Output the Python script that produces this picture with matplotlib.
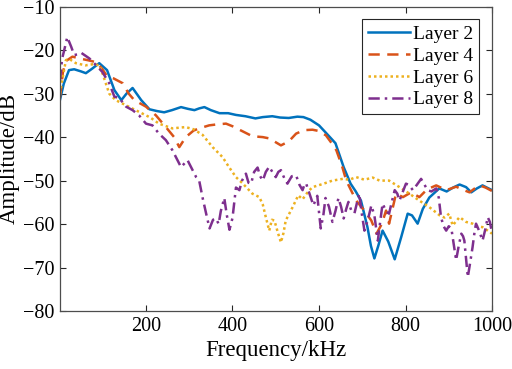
import matplotlib

matplotlib.use("Agg")
import matplotlib.pyplot as plt  # noqa: E402

plt.rcParams["font.family"] = ["Liberation Serif", "DejaVu Serif"]
plt.rcParams["mathtext.fontset"] = "stix"

# Layer 2 (solid blue)
f2 = [1, 10, 22, 34, 50, 61, 75, 92, 110, 127, 143, 155, 169, 189, 208, 225,
      242, 260, 281, 297, 312, 323, 335, 350, 370, 390, 408, 430, 453, 470,
      492, 510, 530, 550, 564, 580, 600, 615, 638, 657, 673, 685, 697, 712,
      720, 728, 737, 747, 760, 775, 790, 805, 815, 828, 840, 855, 878, 895,
      910, 925, 940, 952, 965, 978, 990, 1000]
a2 = [-31.5, -27.7, -24.6, -24.4, -24.9, -25.3, -24.3, -23.0, -24.6, -29.2,
      -31.5, -30.0, -28.7, -31.5, -33.6, -34.0, -34.3, -33.8, -33.1, -33.5,
      -33.8, -33.4, -33.1, -33.8, -34.5, -34.5, -34.9, -35.2, -35.7, -35.4,
      -35.2, -35.5, -35.6, -35.3, -35.4, -36.0, -37.3, -38.9, -41.4, -46.9,
      -50.7, -52.5, -54.6, -60.7, -65.0, -67.9, -65.0, -61.5, -64.0, -68.1,
      -63.0, -57.6, -58.0, -59.9, -56.5, -53.9, -51.8, -52.5, -51.6, -50.9,
      -51.5, -52.7, -51.8, -51.1, -51.7, -52.2]

# Layer 4 (dashed orange)
f4 = [1, 8, 15, 30, 50, 65, 86, 100, 110, 125, 146, 160, 173, 200, 223, 246,
      265, 277, 292, 310, 323, 346, 362, 385, 400, 420, 446, 470, 485, 512,
      530, 547, 565, 585, 600, 616, 630, 640, 654, 663, 686, 705, 721, 733,
      745, 755, 762, 778, 794, 813, 832, 850, 871, 894, 917, 930, 948, 960,
      971, 985, 1000]
a4 = [-31.0, -25.0, -22.5, -21.5, -22.0, -22.3, -22.8, -24.5, -26.0, -26.5,
      -27.6, -30.0, -31.5, -33.0, -35.0, -37.7, -40.0, -42.3, -40.0, -38.5,
      -38.0, -37.3, -37.1, -36.9, -37.5, -38.5, -39.8, -40.0, -40.3, -41.9,
      -41.0, -39.2, -38.4, -38.3, -38.6, -39.6, -41.5, -43.0, -46.9, -50.0,
      -54.6, -56.9, -59.2, -62.2, -60.0, -56.9, -59.9, -53.0, -53.8, -52.7,
      -53.8, -52.0, -51.1, -52.2, -51.4, -52.0, -52.7, -51.8, -51.1, -51.6,
      -52.4]

# Layer 6 (dotted yellow)
f6 = [1, 8, 15, 22, 38, 60, 80, 92, 100, 115, 130, 146, 170, 192, 210, 230,
      261, 280, 292, 310, 331, 354, 377, 392, 408, 423, 446, 462, 470, 477,
      485, 491, 497, 505, 512, 518, 523, 539, 552, 562, 575, 585, 608, 631,
      655, 670, 686, 705, 724, 740, 762, 786, 809, 832, 855, 879, 890, 901,
      909, 925, 940, 955, 965, 978, 990, 1000]
a6 = [-30.0, -26.0, -22.3, -22.0, -23.0, -23.5, -23.2, -23.5, -25.5, -30.0,
      -31.5, -32.3, -33.5, -34.6, -35.5, -36.9, -38.0, -37.8, -37.7, -38.2,
      -39.5, -42.3, -44.6, -46.9, -49.2, -50.6, -53.0, -53.8, -55.5, -58.4,
      -61.5, -59.0, -59.2, -62.0, -64.2, -62.0, -59.2, -56.1, -53.4, -54.3,
      -52.5, -51.5, -50.8, -50.0, -49.6, -49.8, -49.2, -49.8, -49.3, -50.0,
      -50.0, -51.5, -53.0, -54.6, -56.1, -58.0, -58.5, -57.6, -60.3, -58.4,
      -59.5, -59.9, -60.5, -60.7, -61.5, -62.2]

# Layer 8 (dash-dot purple)
f8 = [1, 6, 11, 18, 27, 34, 42, 50, 69, 84, 99, 115, 127, 138, 154, 169,
      184, 200, 215, 230, 246, 261, 281, 296, 316, 323, 331, 340, 347, 355,
      362, 368, 373, 381, 387, 393, 400, 408, 416, 422, 431, 437, 443, 450,
      458, 464, 470, 477, 485, 492, 500, 506, 512, 520, 527, 537, 547, 555,
      562, 566, 570, 578, 587, 596, 604, 610, 615, 623, 631, 638, 645, 651,
      657, 663, 668, 675, 682, 688, 693, 698, 705, 713, 721, 728, 736, 742,
      747, 755, 762, 768, 775, 781, 786, 794, 801, 808, 817, 826, 836, 843,
      851, 860, 871, 877, 882, 888, 894, 900, 906, 912, 917, 923, 929, 933,
      936, 940, 944, 950, 955, 960, 963, 970, 978, 985, 990, 995, 1000]
a8 = [-27.0, -22.0, -20.0, -17.0, -19.2, -21.1, -21.0, -20.6, -21.9, -23.4,
      -25.0, -27.6, -30.7, -31.0, -33.0, -33.8, -35.0, -36.9, -37.3, -39.2,
      -40.7, -43.0, -46.9, -45.3, -49.2, -50.0, -54.0, -58.0, -61.0, -59.0,
      -58.7, -60.0, -57.0, -54.0, -58.0, -61.3, -58.6, -51.6, -52.2, -50.0,
      -48.4, -50.5, -50.7, -48.0, -47.0, -49.0, -50.0, -48.0, -46.8, -48.0,
      -49.2, -48.0, -47.6, -49.5, -50.7, -49.0, -48.8, -51.0, -52.2, -51.0,
      -50.6, -53.0, -55.7, -53.5, -61.0, -58.0, -54.0, -56.0, -59.5, -57.0,
      -54.0, -56.0, -58.7, -56.5, -54.9, -57.0, -57.5, -55.0, -53.0, -57.0,
      -61.5, -59.0, -55.7, -58.0, -63.8, -59.0, -55.3, -57.0, -57.6, -55.0,
      -52.2, -53.0, -54.6, -52.5, -50.7, -51.0, -52.2, -51.0, -49.6, -50.8,
      -52.2, -52.5, -51.8, -54.0, -58.4, -60.5, -61.5, -60.5, -61.0, -65.0,
      -68.3, -65.0, -62.2, -62.8, -63.8, -68.0, -72.2, -68.5, -65.3, -61.5,
      -59.9, -61.5, -63.8, -61.0, -58.4, -59.5, -62.0]

x_ticks = [200, 400, 600, 800, 1000]
y_ticks = [-80, -70, -60, -50, -40, -30, -20, -10]

fig = plt.figure(figsize=(5.12, 3.69), dpi=100)
ax = fig.add_axes([0.117, 0.157, 0.844, 0.825])

lw = 1.8
ax.plot(f2, a2, color="#0072BD", lw=lw, ls="-", label="Layer 2")
ax.plot(f4, a4, color="#D95319", lw=lw, ls=(0, (4.5, 3)), label="Layer 4")
ax.plot(f6, a6, color="#EDB120", lw=lw, ls=(0, (1, 1.2)), label="Layer 6")
ax.plot(f8, a8, color="#7E2F8E", lw=lw, ls=(0, (4.5, 2, 1, 2)), label="Layer 8")

ax.set_xlim(1, 1000)
ax.set_ylim(-80, -10)
ax.set_xticks(x_ticks)
ax.set_yticks(y_ticks)
ax.tick_params(direction="in", top=True, right=True, labelsize=14.5,
               length=4, width=0.8, color="#262626", pad=4)
for sp in ax.spines.values():
    sp.set_color("#4d4d4d")
    sp.set_linewidth(0.9)
ax.set_xlabel("Frequency/kHz", fontsize=16.5, labelpad=3)
ax.set_ylabel("Amplitude/dB", fontsize=16.5, labelpad=2)

leg = ax.legend(loc="upper right", fontsize=14, handlelength=2.2,
                handletextpad=0.15, borderpad=0.3, labelspacing=0.22,
                fancybox=False, framealpha=1, borderaxespad=0.65)
leg.get_frame().set_edgecolor("#262626")
leg.get_frame().set_linewidth(0.8)

fig.savefig("out.png", dpi=100)
